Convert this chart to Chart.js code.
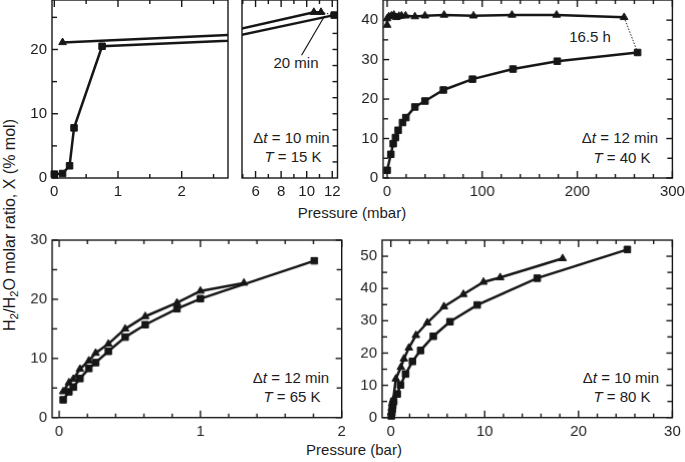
<!DOCTYPE html>
<html><head><meta charset="utf-8">
<script src="https://cdn.jsdelivr.net/npm/chart.js@4.4.0/dist/chart.umd.min.js"></script>
<style>
html,body{margin:0;padding:0;background:#fff}
body{width:685px;height:462px;position:relative;overflow:hidden;font-family:"Liberation Sans",Arial,Helvetica,sans-serif;color:#1c1c1c}
.box{position:absolute}
.t{position:absolute;font-size:15px;line-height:16px;white-space:nowrap;transform:translate(-50%,-50%)}
.ytitle{position:absolute;font-size:16px;line-height:18px;white-space:nowrap;left:9.5px;top:225px;transform:translate(-50%,-50%) rotate(-90deg)}
sub{font-size:0.72em;vertical-align:-0.25em;line-height:0}
</style></head><body>

<div class="ytitle">H<sub>2</sub>/H<sub>2</sub>O molar ratio, X (% mol)</div>
<div class="t" style="left:352px;top:213px">Pressure (mbar)</div>
<div class="t" style="left:354px;top:450px">Pressure (bar)</div>
<div class="t" style="left:296px;top:62.5px">20 min</div>
<div class="t" style="left:291.5px;top:137.5px">Δ<i>t</i> = 10 min</div>
<div class="t" style="left:293px;top:157px"><i>T</i> = 15 K</div>
<div class="t" style="left:590px;top:37px">16.5 h</div>
<div class="t" style="left:620px;top:138px">Δ<i>t</i> = 12 min</div>
<div class="t" style="left:622px;top:158px"><i>T</i> = 40 K</div>
<div class="t" style="left:291px;top:377.5px">Δ<i>t</i> = 12 min</div>
<div class="t" style="left:292px;top:397px"><i>T</i> = 65 K</div>
<div class="t" style="left:621px;top:377.5px">Δ<i>t</i> = 10 min</div>
<div class="t" style="left:622px;top:397px"><i>T</i> = 80 K</div>

<script>
// ---------- DATA ----------
// T = 15 K (broken axis, two panels)
const sq15X  = [0, 0.13, 0.24, 0.31, 0.75, 12.15];
const sq15Y  = [0.6, 0.7, 1.9, 7.8, 20.5, 25.35];
const tri15X = [0.13, 10.56, 11.12];
const tri15Y = [21.1, 25.8, 25.8];

// T = 40 K
const sq40X  = [0, 3.9, 6.4, 8.8, 11.6, 16.2, 19.7, 29.2, 39.8, 59.2, 89.8, 132.4, 178.9, 263.4];
const sq40Y  = [1.95, 6.0, 8.7, 10.25, 12.1, 14.05, 15.3, 18.0, 19.5, 22.3, 25.05, 27.6, 29.6, 31.8];
const tri40X = [0, 0, 1.8, 4.6, 7.1, 9.9, 12.4, 15.2, 19.4, 29.2, 39.8, 59.9, 90.8, 131.3, 178.2, 249.2];
const tri40Y = [38.75, 40.4, 40.9, 41.1, 41.3, 40.7, 41.0, 41.1, 41.1, 40.9, 41.1, 41.3, 41.1, 41.3, 41.3, 40.7];

// T = 65 K
const sq65X  = [0.028, 0.069, 0.1, 0.147, 0.21, 0.258, 0.348, 0.467, 0.609, 0.834, 1.0, 1.806];
const sq65Y  = [3.0, 4.36, 5.15, 6.6, 8.3, 9.3, 11.2, 13.6, 15.7, 18.4, 20.1, 26.5];
const tri65X = [0.028, 0.069, 0.1, 0.147, 0.21, 0.258, 0.348, 0.467, 0.609, 0.834, 1.0, 1.308];
const tri65Y = [4.4, 5.9, 6.5, 8.2, 9.6, 10.9, 12.45, 15.0, 17.1, 19.4, 21.4, 22.75];

// T = 80 K
const sq80X  = [0.05, 0.1, 0.15, 0.2, 0.3, 0.68, 1.03, 1.57, 2.3, 3.17, 4.52, 6.3, 9.2, 15.6, 25.2];
const sq80Y  = [0.5, 1.5, 2.6, 3.8, 5.0, 7.3, 10.1, 13.5, 17.4, 20.8, 25.2, 29.7, 34.9, 43.2, 52.1];
const tri80X = [0.05, 0.1, 0.15, 0.25, 0.53, 1.07, 1.39, 1.92, 2.67, 3.88, 5.66, 7.73, 9.87, 11.65, 18.3];
const tri80Y = [1.5, 3.0, 4.5, 5.5, 12.0, 15.6, 18.2, 21.6, 25.5, 29.4, 34.4, 38.2, 42.0, 43.4, 49.3];

// ---------- TICKS ----------
const p1XTicks = [0, 1, 2],            p1XMinor = [0.5, 1.5, 2.5];
const p1YTicks = [0, 10, 20],          p1YMinor = [5, 15, 25];
const p2XTicks = [6, 8, 10, 12],       p2XMinor = [5, 7, 9, 11];
const p2YRight = [2.5, 5, 7.5, 10, 12.5, 15, 17.5, 20, 22.5, 25];
const p3XTicks = [0, 100, 200, 300],   p3XMinor = [20, 40, 60, 80, 120, 140, 160, 180, 220, 240, 260, 280];
const p3YTicks = [0, 10, 20, 30, 40],  p3YMinor = [5, 15, 25, 35];
const p4XTicks = [0, 1, 2],            p4XMinor = [0.2, 0.4, 0.6, 0.8, 1.2, 1.4, 1.6, 1.8];
const p4YTicks = [0, 10, 20, 30],      p4YMinor = [5, 15, 25];
const p5XTicks = [0, 10, 20, 30],      p5XMinor = [2, 4, 6, 8, 12, 14, 16, 18, 22, 24, 26, 28];
const p5YTicks = [0, 10, 20, 30, 40, 50], p5YMinor = [5, 15, 25, 35, 45];

// ---------- STYLE / HELPERS ----------
const INK = '#161616';
const TXT = '#1c1c1c';
const FONT = {family: '"Liberation Sans", Arial, sans-serif', size: 15};

const pts = (xs, ys) => xs.map((x, i) => ({x, y: ys[i]}));
const lastPair = (xa, ya, xb, yb) => [{x: xa[xa.length-1], y: ya[ya.length-1]}, {x: xb[xb.length-1], y: yb[yb.length-1]}];

function series(xs, ys, style, clip) {
  return {
    data: pts(xs, ys), showLine: true, borderColor: INK, borderWidth: 2.5,
    pointStyle: style, pointRadius: style === 'rect' ? 4.6 : 4.4,
    pointBackgroundColor: INK, pointBorderColor: INK, pointBorderWidth: 1,
    clip
  };
}
function connector(data, clip) {
  return {data, showLine: true, borderColor: INK, borderWidth: 1, borderDash: [1.5, 1.5],
          pointRadius: 0, clip};
}

const framePlugin = {
  id: 'frame',
  afterDatasetsDraw(chart, args, o) {
    const {ctx, chartArea: a} = chart;
    const xs = chart.scales.x, ys = chart.scales.y;
    ctx.save();
    ctx.strokeStyle = INK;
    ctx.lineWidth = 1.4;
    const seg = (x1, y1, x2, y2) => { ctx.beginPath(); ctx.moveTo(x1, y1); ctx.lineTo(x2, y2); ctx.stroke(); };
    ctx.strokeRect(a.left, a.top, a.right - a.left, a.bottom - a.top);
    const xt = (vals, len) => vals.forEach(v => {
      const p = xs.getPixelForValue(v);
      seg(p, a.bottom, p, a.bottom - len);
      seg(p, a.top, p, a.top + len);
    });
    const yt = (vals, len, left, right) => vals.forEach(v => {
      const p = ys.getPixelForValue(v);
      if (left) seg(a.left, p, a.left + len, p);
      if (right) seg(a.right, p, a.right - len, p);
    });
    xt(o.xMajor || [], 7); xt(o.xMinor || [], 4);
    yt(o.yMajor || [], 6, o.left, o.right); yt(o.yMinor || [], 5, o.left, o.right);
    if (o.yRightOnly) yt(o.yRightOnly, 5, false, true);
    if (o.pointer) {
      const [p0, p1] = o.pointer;
      ctx.lineWidth = 1.2;
      seg(xs.getPixelForValue(p0[0]), ys.getPixelForValue(p0[1]), xs.getPixelForValue(p1[0]), ys.getPixelForValue(p1[1]));
    }
    ctx.restore();
  }
};

function makePanel(cfg) {
  const AW = 44, AH = 34, PAD = 18;
  const [l, t, r, b] = cfg.area;
  const showY = cfg.showY !== false;
  const div = document.createElement('div');
  div.className = 'box';
  Object.assign(div.style, {
    left: (l - AW) + 'px', top: (t - PAD) + 'px',
    width: (r - l + AW + PAD) + 'px', height: (b - t + PAD + AH) + 'px'
  });
  const cv = document.createElement('canvas');
  div.appendChild(cv);
  document.body.appendChild(div);
  new Chart(cv, {
    type: 'scatter',
    data: {datasets: cfg.datasets},
    plugins: [framePlugin],
    options: {
      responsive: true, maintainAspectRatio: false, animation: false, events: [],
      layout: {padding: {left: 0, top: PAD, right: PAD, bottom: 0}},
      plugins: {legend: {display: false}, tooltip: {enabled: false}, frame: cfg.frame},
      scales: {
        x: {
          type: 'linear', min: cfg.xRange[0], max: cfg.xRange[1],
          grid: {display: false, drawTicks: false}, border: {display: false},
          ticks: {font: FONT, color: TXT, padding: 5, maxRotation: 0, autoSkip: false,
                  callback: v => String(v)},
          afterBuildTicks: s => { s.ticks = cfg.xTicks.map(v => ({value: v})); },
          afterFit: s => { s.height = AH; }
        },
        y: {
          type: 'linear', min: cfg.yRange[0], max: cfg.yRange[1],
          grid: {display: false, drawTicks: false}, border: {display: false},
          ticks: {display: showY, font: FONT, color: TXT, padding: 5, autoSkip: false, callback: v => String(v)},
          afterBuildTicks: s => { s.ticks = cfg.yTicks.map(v => ({value: v})); },
          afterFit: s => { s.width = AW; }
        }
      }
    }
  });
}

const C = 7;
// Panel 1: 15 K, low pressure part
makePanel({
  area: [52, 0, 228, 178], xRange: [-0.036, 2.727], yRange: [0, 27.7],
  xTicks: p1XTicks, yTicks: p1YTicks,
  frame: {xMajor: p1XTicks, xMinor: p1XMinor, yMajor: p1YTicks, yMinor: p1YMinor, left: true, right: false},
  datasets: [
    series(sq15X, sq15Y, 'rect', {left: C, top: C, right: 0, bottom: C}),
    series(tri15X, tri15Y, 'triangle', {left: C, top: C, right: 0, bottom: C})
  ]
});
// Panel 2: 15 K, high pressure part
makePanel({
  area: [241.5, 0, 337, 178], xRange: [4.94, 12.41], yRange: [0, 27.7], showY: false,
  xTicks: p2XTicks, yTicks: p1YTicks,
  frame: {xMajor: p2XTicks, xMinor: p2XMinor, yRightOnly: p2YRight, left: false, right: false,
          pointer: [[9.6, 19.1], [11.4, 25.2]]},
  datasets: [
    series(sq15X, sq15Y, 'rect', {left: 0, top: C, right: C, bottom: C}),
    series(tri15X, tri15Y, 'triangle', {left: 0, top: C, right: C, bottom: C}),
    connector(lastPair(tri15X, tri15Y, sq15X, sq15Y), {left: 0, top: C, right: C, bottom: C})
  ]
});
// Panel 3: 40 K
makePanel({
  area: [383.3, 0, 671.7, 178], xRange: [-4.2, 300], yRange: [0, 45.1],
  xTicks: p3XTicks, yTicks: p3YTicks,
  frame: {xMajor: p3XTicks, xMinor: p3XMinor, yMajor: p3YTicks, yMinor: p3YMinor, left: true, right: true},
  datasets: [
    series(sq40X, sq40Y, 'rect', C),
    series(tri40X, tri40Y, 'triangle', C),
    connector(lastPair(tri40X, tri40Y, sq40X, sq40Y), C)
  ]
});
// Panel 4: 65 K
makePanel({
  area: [52.3, 240, 341, 416.7], xRange: [-0.05, 2], yRange: [0, 30],
  xTicks: p4XTicks, yTicks: p4YTicks,
  frame: {xMajor: p4XTicks, xMinor: p4XMinor, yMajor: p4YTicks, yMinor: p4YMinor, left: true, right: true},
  datasets: [
    series(sq65X, sq65Y, 'rect', C),
    series(tri65X, tri65Y, 'triangle', C)
  ]
});
// Panel 5: 80 K
makePanel({
  area: [382.3, 240, 671.7, 416.7], xRange: [-0.93, 30], yRange: [0, 55],
  xTicks: p5XTicks, yTicks: p5YTicks,
  frame: {xMajor: p5XTicks, xMinor: p5XMinor, yMajor: p5YTicks, yMinor: p5YMinor, left: true, right: true},
  datasets: [
    series(sq80X, sq80Y, 'rect', C),
    series(tri80X, tri80Y, 'triangle', C)
  ]
});
</script>
</body></html>
